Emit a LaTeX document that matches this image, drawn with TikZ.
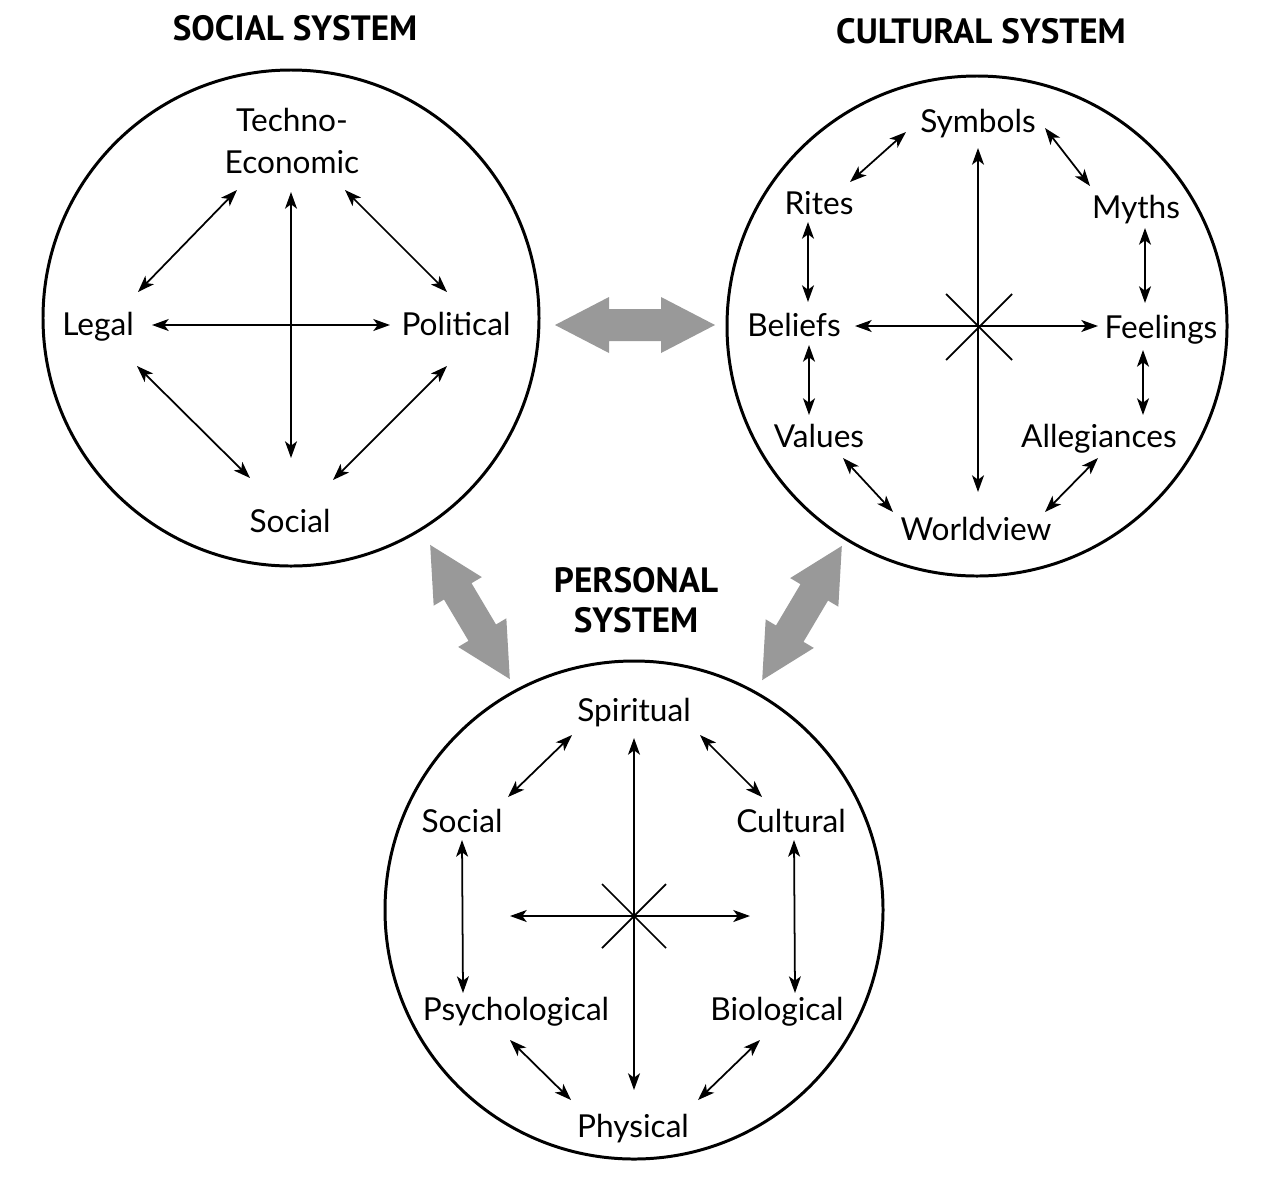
\documentclass[tikz,border=0pt]{standalone}
\usepackage{fontspec}
\setmainfont{Lato}
\newfontfamily\ttlfont{PT Sans}
\usetikzlibrary{arrows.meta}
\newcommand\grayarrow[4]{%
  \begin{scope}[shift={(#1,#2)},rotate=#3]
    \fill[garrow] (-#4,0) -- (-#4+54,28) -- (-#4+54,16) -- (#4-54,16) -- (#4-54,28)
      -- (#4,0) -- (#4-54,-28) -- (#4-54,-16) -- (-#4+54,-16) -- (-#4+54,-28) -- cycle;
  \end{scope}}
\begin{document}
\begin{tikzpicture}[x=0.02cm,y=-0.02cm,
  lab/.style={font=\fontsize{18}{21}\selectfont, inner sep=0pt, anchor=base},
  ttl/.style={font=\ttlfont\fontsize{20}{24}\bfseries\selectfont, inner sep=0pt, anchor=base},
  dbl/.style={{Stealth[length=9.5pt,width=6.8pt,inset=2.5pt]}-{Stealth[length=9.5pt,width=6.8pt,inset=2.5pt]}, line width=1pt},
  sys/.style={line width=1.7pt},
  star/.style={line width=1pt},
  garrow/.style={fill=gray!80}]
\fill[white] (0,0) rectangle (1263,1180);
\useasboundingbox (0,0) rectangle (1263,1180);

% ---------- titles ----------
\node[ttl] (tsoc) at (295,40) {SOCIAL SYSTEM};
\node[ttl] (tcul) at (981,43) {CULTURAL SYSTEM};
\node[ttl] (tper1) at (636,592) {PERSONAL};
\node[ttl] (tper2) at (636,632) {SYSTEM};

% ---------- circles ----------
\draw[sys] (291,318) circle [radius=248];
\draw[sys] (977,326) circle [radius=250];
\draw[sys] (634,910) circle [radius=249];

% ---------- gray arrows ----------
\grayarrow{635}{325}{0}{80}
\grayarrow{470}{612}{-59.3}{78}
\grayarrow{802}{613}{59.3}{78}

% ---------- social system ----------
\node[lab, anchor=center, align=center, font=\fontsize{18}{23.8}\selectfont] (te) at (292,141) {Techno-\\Economic};
\node[lab] (legal) at (98,335) {Legal};
\node[lab] (political) at (456,335) {Political};
\node[lab] (ssoc) at (290,532) {Social};

\draw[dbl] ([shift={(-1,51)}]te.center) -- ([shift={(1,-74)}]ssoc.base);
\draw[dbl] ([shift={(54,-10)}]legal.base) -- ([shift={(-66,-10)}]political.base);
\draw[dbl] ([shift={(-55,49)}]te.center) -- ([shift={(40,-43)}]legal.base);
\draw[dbl] ([shift={(53,49)}]te.center) -- ([shift={(-9,-43)}]political.base);
\draw[dbl] ([shift={(39,31)}]legal.base) -- ([shift={(-40,-54)}]ssoc.base);
\draw[dbl] ([shift={(-9,31)}]political.base) -- ([shift={(43,-52)}]ssoc.base);

% ---------- cultural system ----------
\node[lab] (sym) at (978,132) {Symbols};
\node[lab] (rites) at (819,214) {Rites};
\node[lab] (myths) at (1136,218) {Myths};
\node[lab] (beliefs) at (794,336) {Beliefs};
\node[lab] (feel) at (1161,338) {Feelings};
\node[lab] (values) at (819,447) {Values};
\node[lab] (alleg) at (1099,447) {Allegiances};
\node[lab] (world) at (976,540) {Worldview};

\coordinate (cc) at (979,327);
\draw[star] ([shift={(-33,-33)}]cc) -- ([shift={(33,33)}]cc);
\draw[star] ([shift={(33,-33)}]cc) -- ([shift={(-33,33)}]cc);

\draw[dbl] ([shift={(0,16)}]sym.base) -- ([shift={(2,-48)}]world.base);
\draw[dbl] ([shift={(61,-10)}]beliefs.base) -- ([shift={(-63,-12)}]feel.base);
\draw[dbl] ([shift={(-72,0)}]sym.base) -- ([shift={(31,-32)}]rites.base);
\draw[dbl] ([shift={(67,-4)}]sym.base) -- ([shift={(-46,-32)}]myths.base);
\draw[dbl] ([shift={(-11,8)}]rites.base) -- ([shift={(14,-34)}]beliefs.base);
\draw[dbl] ([shift={(9,10)}]myths.base) -- ([shift={(-16,-35)}]feel.base);
\draw[dbl] ([shift={(15,9)}]beliefs.base) -- ([shift={(-10,-32)}]values.base);
\draw[dbl] ([shift={(-18,12)}]feel.base) -- ([shift={(44,-32)}]alleg.base);
\draw[dbl] ([shift={(24,11)}]values.base) -- ([shift={(-83,-28)}]world.base);
\draw[dbl] ([shift={(-1,11)}]alleg.base) -- ([shift={(69,-28)}]world.base);

% ---------- personal system ----------
\node[lab] (spir) at (634,721) {Spiritual};
\node[lab] (psoc) at (462,832) {Social};
\node[lab] (cult) at (791,832) {Cultural};
\node[lab] (psych) at (516,1020) {Psychological};
\node[lab] (bio) at (777,1020) {Biological};
\node[lab] (phys) at (633,1137) {Physical};

\coordinate (pc) at (634,916);
\coordinate (pl) at (510,916);
\coordinate (pr) at (750,916);
\draw[star] ([shift={(-32,-32)}]pc) -- ([shift={(32,32)}]pc);
\draw[star] ([shift={(32,-32)}]pc) -- ([shift={(-32,32)}]pc);
\draw[dbl] (pl) -- (pr);

\draw[dbl] ([shift={(0,17)}]spir.base) -- ([shift={(1,-47)}]phys.base);
\draw[dbl] ([shift={(-62,14)}]spir.base) -- ([shift={(46,-35)}]psoc.base);
\draw[dbl] ([shift={(66,14)}]spir.base) -- ([shift={(-29,-35)}]cult.base);
\draw[dbl] ([shift={(0,8)}]psoc.base) -- ([shift={(-53,-27)}]psych.base);
\draw[dbl] ([shift={(3,8)}]cult.base) -- ([shift={(18,-27)}]bio.base);
\draw[dbl] ([shift={(-6,20)}]psych.base) -- ([shift={(-62,-37)}]phys.base);
\draw[dbl] ([shift={(-17,20)}]bio.base) -- ([shift={(65,-37)}]phys.base);
\end{tikzpicture}
\end{document}
